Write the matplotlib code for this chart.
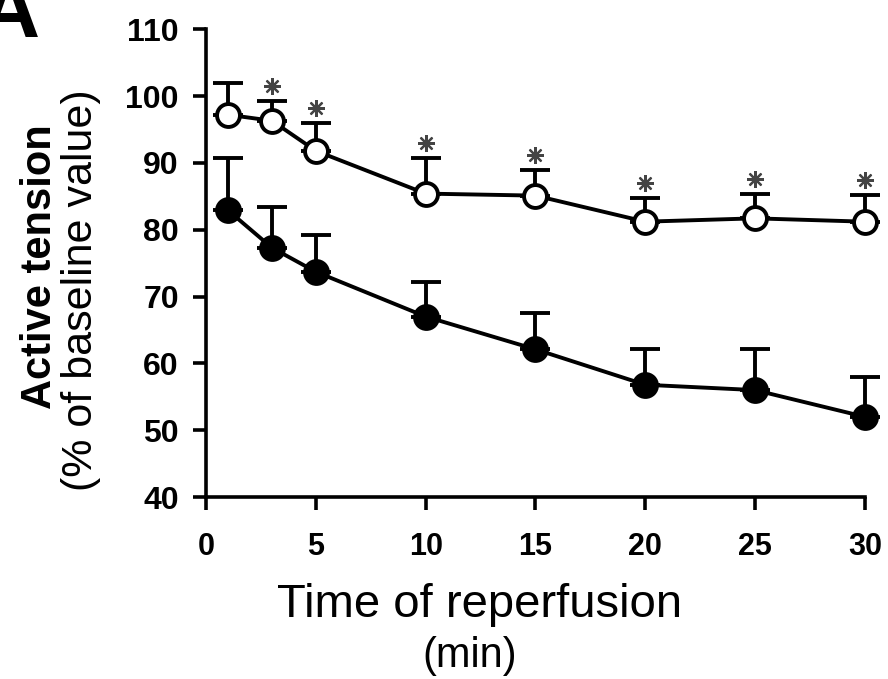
import matplotlib
matplotlib.use('Agg')
import matplotlib.pyplot as plt
from matplotlib.transforms import offset_copy

plt.rcParams['font.family'] = ['Liberation Sans', 'DejaVu Sans']

# Time of reperfusion (min)
time_min = [1, 3, 5, 10, 15, 20, 25, 30]

# open circles: mean and upper SEM
open_mean = [97.2, 96.3, 91.8, 85.4, 85.1, 81.2, 81.7, 81.2]
open_err = [4.8, 3.0, 4.2, 5.3, 3.8, 3.6, 3.7, 4.0]

# filled circles
filled_mean = [82.9, 77.3, 73.7, 67.0, 62.1, 56.8, 56.0, 52.0]
filled_err = [7.8, 6.1, 5.5, 5.1, 5.5, 5.4, 6.2, 5.9]

# asterisk flags (significance), one per time point of the open series
signif = [False, True, True, True, True, True, True, True]

x_ticks = [0, 5, 10, 15, 20, 25, 30]
y_ticks = [40, 50, 60, 70, 80, 90, 100, 110]

fig = plt.figure(figsize=(8.88, 6.79), dpi=100)
ax = fig.add_axes([0.232, 0.268, 0.742, 0.689])

lw = 2.8
for mean, err, face in [(filled_mean, filled_err, 'black'),
                        (open_mean, open_err, 'white')]:
    ax.errorbar(time_min, mean, yerr=[[0] * len(err), err], fmt='none',
                ecolor='black', elinewidth=lw, capsize=11, capthick=lw,
                clip_on=False, zorder=2)
    ax.plot(time_min, mean, color='black', lw=lw, marker='o', ms=16.5,
            mfc=face, mec='black', mew=2.8, clip_on=False, zorder=3)

# significance stars just above the open-series caps
star_tr = offset_copy(ax.transData, fig=fig, x=0, y=15, units='dots')
sx = [t for t, s in zip(time_min, signif) if s]
sy = [m + e for m, e, s in zip(open_mean, open_err, signif) if s]
ax.plot(sx, sy, ls='none', marker=(8, 2, 0), ms=12, mew=1.6,
        color='#444444', transform=star_tr, clip_on=False, zorder=4)

ax.set_xlim(0, 30)
ax.set_ylim(40, 110)
ax.set_xticks(x_ticks)
ax.set_yticks(y_ticks)
for side in ('top', 'right'):
    ax.spines[side].set_visible(False)
for side in ('left', 'bottom'):
    ax.spines[side].set_linewidth(2.6)
ax.tick_params(direction='out', length=9.5, width=2.6)
ax.tick_params(axis='y', pad=10, labelsize=23)
ax.tick_params(axis='x', pad=16, labelsize=22)
for lab in ax.get_xticklabels() + ax.get_yticklabels():
    lab.set_fontweight('bold')

# axis titles placed as free figure text, like the original panel
fig.text(40 / 888, 1 - 267 / 679, 'Active tension', rotation=90,
         ha='center', va='center', fontsize=30, fontweight='bold')
fig.text(81 / 888, 1 - 290 / 679, '(% of baseline value)', rotation=90,
         ha='center', va='center', fontsize=31)
fig.text(480 / 888, 1 - 605 / 679, 'Time of reperfusion',
         ha='center', va='center', fontsize=34)
fig.text(470 / 888, 1 - 656 / 679, '(min)',
         ha='center', va='center', fontsize=30)

# panel letter, mostly cut off at the corner
fig.text(40 / 888, 1 - 37 / 679, 'A', ha='right', va='baseline',
         fontsize=62, fontweight='bold')

fig.savefig('out.png', dpi=100)
